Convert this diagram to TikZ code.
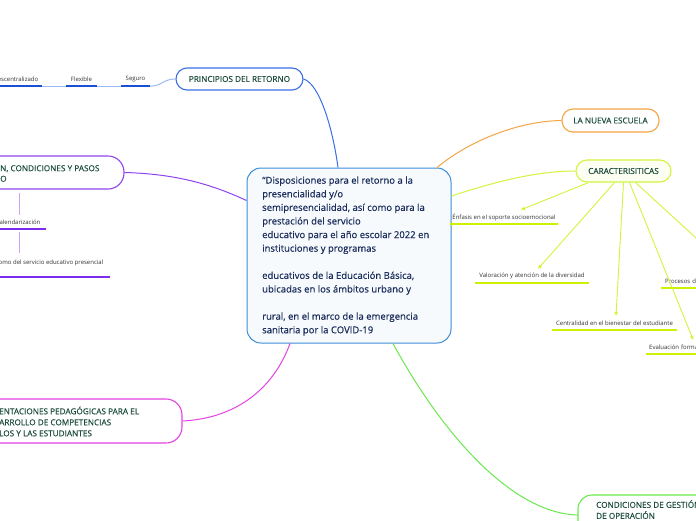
\documentclass[tikz,border=0pt]{standalone}
\usepackage{fontspec}
\setmainfont{Open Sans}
\newfontfamily\semib{Open Sans}[FakeBold=0.5]
\newfontfamily\medf{Open Sans}[FakeBold=0.25]
\usetikzlibrary{arrows.meta,calc}
\definecolor{cborder}{HTML}{3D8DD9}
\definecolor{cfill}{HTML}{F7FAFD}
\definecolor{ctext}{HTML}{1A2C5B}
\definecolor{btext}{HTML}{1D4D3E}
\definecolor{stext}{HTML}{333333}
\definecolor{pblue}{HTML}{3A6FE8}
\definecolor{dblue}{HTML}{1A4FD6}
\definecolor{lblue}{HTML}{9DB9F5}
\definecolor{cpurple}{HTML}{8E44EE}
\definecolor{dpurple}{HTML}{7B2CF0}
\definecolor{lpurple}{HTML}{C9A6F7}
\definecolor{cmag}{HTML}{E343E3}
\definecolor{cgreen}{HTML}{6BE84D}
\definecolor{corange}{HTML}{F5A445}
\definecolor{clime}{HTML}{D2F53C}
\definecolor{dlime}{HTML}{CFF000}
\tikzset{
  branch/.style={draw, rounded corners=11pt, line width=1.1pt, fill=white,
    font=\medf\fontsize{8.2}{11}\selectfont, text=btext, minimum height=22pt, align=center},
  subitem/.style={inner xsep=2pt, inner ysep=0pt, minimum height=14pt,
    font=\fontsize{6}{7.5}\selectfont, text=stext},
  ulblue/.style={dblue, line width=1.6pt},
  ulpurple/.style={dpurple, line width=1.6pt},
  ullime/.style={dlime, line width=1.6pt},
  limearrow/.style={clime, line width=0.9pt, -{Triangle[length=4pt,width=3.6pt]}},
}
\begin{document}
\begin{tikzpicture}[x=1pt,y=-1pt]
\useasboundingbox (0,0) rectangle (696,520);
\fill[white] (0,0) rectangle (696,520);

% central node
\node[draw=cborder, fill=cfill, line width=1pt, rounded corners=14pt,
  minimum width=204pt, minimum height=175pt, inner sep=0pt] (c) at (349,255.5) {};
\node[anchor=west, align=left, inner sep=0pt, text=ctext,
  font=\semib\fontsize{9.5}{13.6}\selectfont] (ct) at (262,256) {%
“Disposiciones para el retorno a la\\
presencialidad y/o\\
semipresencialidad, así como para la\\
prestación del servicio\\
educativo para el año escolar 2022 en\\
instituciones y programas\\[13.6pt]
educativos de la Educación Básica,\\
ubicadas en los ámbitos urbano y\\[13.6pt]
rural, en el marco de la emergencia\\
sanitaria por la COVID-19};

% PRINCIPIOS DEL RETORNO
\node[branch, draw=pblue, minimum width=127pt] (pr) at (239.5,79) {PRINCIPIOS DEL RETORNO};
\draw[pblue, line width=1pt] (pr.east) .. controls (320,84) and (333,130) .. ([xshift=-11pt]c.north);
\node[subitem, minimum width=29pt] (seg) at (135.5,79) {Seguro};
\node[subitem, minimum width=31pt] (flx) at (81.5,79) {Flexible};
\node[subitem, minimum width=48pt] (dec) at (18,79) {escentralizado};
\draw[ulblue] (seg.south west) -- (seg.south east);
\draw[ulblue] (flx.south west) -- (flx.south east);
\draw[ulblue] (dec.south west) -- (dec.south east);
\draw[lblue, line width=1pt] (seg.south east) .. controls (162,86) and (163,79) .. (pr.west);
\draw[lblue, line width=1pt] (seg.south west) -- (flx.south east);
\draw[lblue, line width=1pt] (flx.south west) -- (dec.south east);

% purple branch
\node[draw=cpurple, line width=1.1pt, rounded corners=16pt, fill=white,
  minimum width=154pt, minimum height=33pt, inner sep=0pt] (pn) at (47,172.5) {};
\node[anchor=west, align=left, inner sep=0pt, text=btext,
  font=\medf\fontsize{8.2}{10.5}\selectfont] (pnt) at (0,173.5) {N, CONDICIONES Y PASOS\\O};
\draw[cpurple, line width=1pt] (pn.east) .. controls (180,174) and (215,186) .. ([yshift=55pt]c.west);
\node[subitem, minimum width=52pt] (cal) at (20,222) {alendarización};
\node[subitem, minimum width=118pt, minimum height=28pt] (srv) at (51,263) {omo del servicio educativo presencial};
\draw[ulpurple] (cal.south west) -- (cal.south east);
\draw[ulpurple] (srv.south west) -- (srv.south east);
\draw[lpurple, line width=1pt] ([yshift=-3pt]pn.south -| 19,0) -- (cal.north -| 19,0);
\draw[lpurple, line width=1pt] ([yshift=-3pt]cal.south -| 19,0) -- ([yshift=-4pt]srv.north -| 19,0);

% magenta branch
\node[draw=cmag, line width=1.1pt, rounded corners=16pt, fill=white,
  minimum width=212pt, minimum height=44pt, inner sep=0pt] (mg) at (76,421) {};
\node[anchor=west, align=left, inner sep=0pt, text=btext,
  font=\medf\fontsize{8.2}{11}\selectfont] (mgt) at (-1,421.5) {ENTACIONES PEDAGÓGICAS PARA EL\\ARROLLO DE COMPETENCIAS\\LOS Y LAS ESTUDIANTES};
\draw[cmag, line width=1pt] (mg.east) .. controls (240,418) and (275,385) .. ([xshift=-59pt]c.south);

% green branch
\node[draw=cgreen, line width=1.1pt, rounded corners=14pt, fill=white,
  minimum width=160pt, minimum height=40pt, inner sep=0pt] (gr) at (658,515) {};
\node[anchor=north west, align=left, inner sep=0pt, text=btext,
  font=\medf\fontsize{8.2}{11}\selectfont] (grt) at (596,500) {CONDICIONES DE GESTIÓN\\DE OPERACIÓN};
\draw[cgreen, line width=1pt] ([xshift=44pt]c.south) .. controls (440,430) and (510,513) .. (gr.west);

% LA NUEVA ESCUELA
\node[branch, draw=corange, minimum width=97pt, minimum height=23pt] (ne) at (610.5,120.5) {LA NUEVA ESCUELA};
\draw[corange, line width=1pt] ([xshift=88pt]c.north) .. controls (470,140) and (520,121) .. (ne.west);

% CARACTERISITICAS
\node[branch, draw=clime, fill=white!93!clime, minimum width=95pt] (car) at (623.5,171) {CARACTERISITICAS};
\draw[clime, line width=1pt] ([yshift=59.5pt]c.east) .. controls (500,180) and (540,171) .. (car.west);

\node[subitem, minimum width=106pt] (enf) at (504,217) {Énfasis en el soporte socioemocional};
\node[subitem, minimum width=114pt] (val) at (532,276) {Valoración y atención de la diversidad};
\node[subitem, minimum width=125pt] (cen) at (614.5,323) {Centralidad en el bienestar del estudiante};
\node[subitem, anchor=west, text width=140pt, align=left, inner xsep=4pt] (pro) at (661,281) {Procesos d};
\node[subitem, anchor=west, text width=88pt, align=left, inner xsep=3pt] (eva) at (646,347) {Evaluación forma};
\foreach \n in {enf,val,cen,pro,eva} \draw[ullime] (\n.south west) -- (\n.south east);

\draw[limearrow] ([xshift=-35pt]car.south) -- ([xshift=17pt]enf.north);
\draw[limearrow] ([xshift=-9pt]car.south) -- ([xshift=6pt]val.north);
\draw[limearrow] ([xshift=0pt]car.south) -- ([xshift=1.5pt]cen.north);
\draw[limearrow] ([xshift=12pt]car.south) -- (pro.north);
\draw[limearrow] ([xshift=6pt]car.south) -- (eva.north);
\end{tikzpicture}
\end{document}
